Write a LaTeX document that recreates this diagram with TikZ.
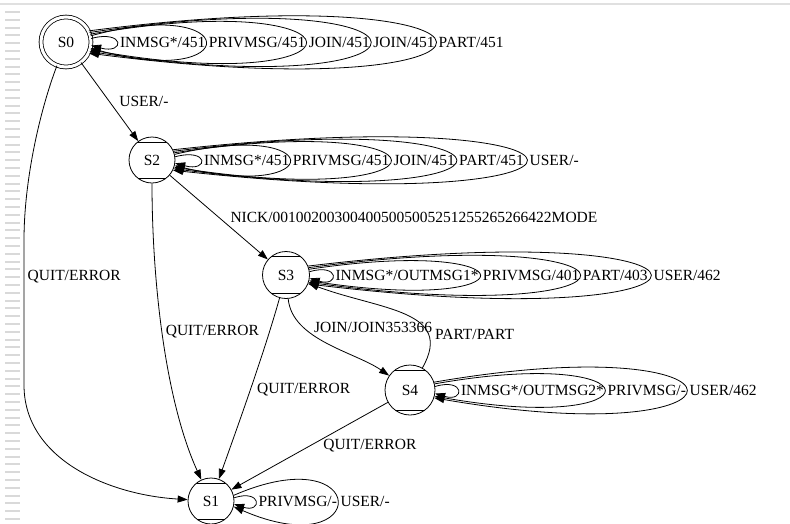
\documentclass[tikz,border=0pt]{standalone}
\usepackage{fontspec}
\setmainfont{Liberation Serif}
\usetikzlibrary{arrows.meta}

\tikzset{
  state/.style={circle, draw, minimum size=46pt, inner sep=0pt,
    path picture={
      \draw ([yshift=-5pt]path picture bounding box.north west) -- ([yshift=-5pt]path picture bounding box.north east);
      \draw ([yshift=5pt]path picture bounding box.south west) -- ([yshift=5pt]path picture bounding box.south east);
    }},
  startstate/.style={circle, draw, double, double distance=3pt, minimum size=50pt, inner sep=0pt},
  looplabel/.style={right, inner sep=3pt},
}

\begin{document}
\begin{tikzpicture}[x=1pt, y=-1pt, line width=0.8pt, >={Triangle[length=10pt,width=7pt]},
  font=\fontsize{15.5}{18}\selectfont]
% Frame
\useasboundingbox (0,0) rectangle (790,523);
\fill[white] (0,0) rectangle (790,523);
\draw[black!12, line width=2pt] (0,4) -- (790,4);
\draw[black!15, line width=15pt, dash pattern=on 2pt off 5.8pt] (12.5,11) -- (12.5,523);
% States
\node[startstate] (S0) at (66,42) {S0};
\node[state] (S2) at (152,160) {S2};
\node[state, minimum size=47pt] (S3) at (286,275) {S3};
\node[state, minimum size=50pt] (S4) at (410,390) {S4};
\node[state] (S1) at (211,501) {S1};
% Self loops
\foreach \a/\d/\h/\lab in {8/34/9/{INMSG*/451}, 14/153/42/{PRIVMSG/451}, 18/287/50/{JOIN/451},
    22/374/56/{JOIN/451}, 26/462/60/{PART/451}}
  \draw[->] (S0.\a) .. controls +(\d,-\h) and +(\d,\h) .. (S0.-\a) node[pos=.5, looplabel] {\lab};
\foreach \a/\d/\h/\lab in {8/34/9/{INMSG*/451}, 14/153/36/{PRIVMSG/451}, 18/288/44/{JOIN/451},
    22/376/48/{PART/451}, 26/471/52/{USER/-}}
  \draw[->] (S2.\a) .. controls +(\d,-\h) and +(\d,\h) .. (S2.-\a) node[pos=.5, looplabel] {\lab};
\foreach \a/\d/\h/\lab in {8/30/9/{INMSG*/OUTMSG1*}, 14/227/34/{PRIVMSG/401}, 18/361/48/{PART/403},
    22/456/55/{USER/462}}
  \draw[->] (S3.\a) .. controls +(\d,-\h) and +(\d,\h) .. (S3.-\a) node[pos=.5, looplabel] {\lab};
\foreach \a/\d/\h/\lab in {8/30/9/{INMSG*/OUTMSG2*}, 14/226/40/{PRIVMSG/-}, 18/336/58/{USER/462}}
  \draw[->] (S4.\a) .. controls +(\d,-\h) and +(\d,\h) .. (S4.-\a) node[pos=.5, looplabel] {\lab};
\foreach \a/\d/\h/\lab in {8/28/9/{PRIVMSG/-}, 14/138/60/{USER/-}}
  \draw[->] (S1.\a) .. controls +(\d,-\h) and +(\d,\h) .. (S1.-\a) node[pos=.5, looplabel] {\lab};
% Transitions
\draw[->] (S0) -- (S2) node[pos=.5, right=6pt] {USER/-};
\draw[->] (S2) -- (S3) node[pos=.5, right=8pt] {NICK/001002003004005005005251255265266422MODE};
\draw[->] (S0) .. controls (40,110) and (24,180) .. (24,240)
  -- node[pos=.25, right] {QUIT/ERROR} (24,385) .. controls (24,460) and (110,495) .. (S1);
\draw[->] (S2) .. controls (152,280) and (165,400) .. (S1) node[pos=.48, right] {QUIT/ERROR};
\draw[->] (S3) .. controls (265,350) and (240,420) .. (S1) node[pos=.52, right=3pt] {QUIT/ERROR};
\draw[->] (S3) .. controls (292,340) and (355,352) .. (S4) node[pos=.28, right=7pt] {JOIN/JOIN353366};
\draw[->] (S4) .. controls (455,310) and (380,310) .. (S3) node[pos=.25, right=3pt] {PART/PART};
\draw[->] (S4) -- (S1) node[pos=.5, right=10pt] {QUIT/ERROR};
\end{tikzpicture}
\end{document}
